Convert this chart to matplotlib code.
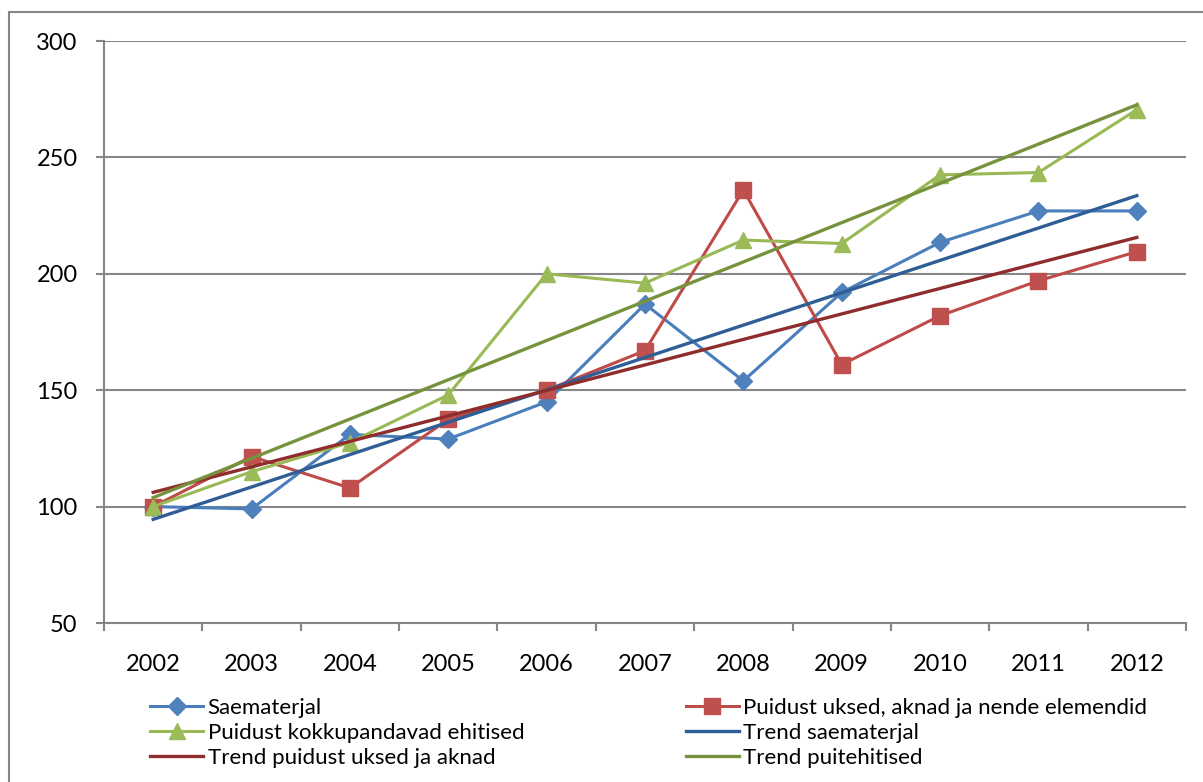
import numpy as np
import matplotlib
matplotlib.use("Agg")
import matplotlib.pyplot as plt
from matplotlib.patches import Rectangle
from matplotlib.ticker import FixedLocator, MultipleLocator

plt.rcParams['font.family'] = ['Lato', 'DejaVu Sans']

years = ['2002', '2003', '2004', '2005', '2006', '2007', '2008', '2009', '2010', '2011', '2012']
saematerjal = [100, 99, 131, 129, 145, 187, 154, 192, 213.5, 227, 227]
uksed_aknad = [100, 121.5, 108, 137.5, 150, 167, 236, 161, 182, 197, 209.5]
ehitised = [100, 115, 127.5, 148, 200, 196, 214.5, 213, 242.5, 243.5, 270.5]

labels = ['Saematerjal',
          'Puidust uksed, aknad ja nende elemendid',
          'Puidust kokkupandavad ehitised',
          'Trend saematerjal',
          'Trend puidust uksed ja aknad',
          'Trend puitehitised']

W, H = 1203, 782
fig = plt.figure(figsize=(W / 100, H / 100), dpi=100)
ax = fig.add_axes([104 / W, 1 - 623 / H, (1186 - 104) / W, (623 - 41) / H])

x = np.arange(len(years))
grid_c = '#868686'

l1, = ax.plot(x, saematerjal, color='#4A7EBB', lw=2.2, marker='D', ms=9,
              mfc='#4F81BD', mec='#4F81BD', zorder=4)
l2, = ax.plot(x, uksed_aknad, color='#BE4B48', lw=2.2, marker='s', ms=11,
              mfc='#C0504D', mec='#C0504D', zorder=4)
l3, = ax.plot(x, ehitised, color='#98B954', lw=2.2, marker='^', ms=12,
              mfc='#9BBB59', mec='#9BBB59', zorder=4)


def trend(values):
    k, b = np.polyfit(x, values, 1)
    return k * x + b


t1, = ax.plot(x, trend(saematerjal), color='#2E5E95', lw=2.4, zorder=5)
t2, = ax.plot(x, trend(uksed_aknad), color='#8E2D2B', lw=2.4, zorder=5)
t3, = ax.plot(x, trend(ehitised), color='#76923C', lw=2.4, zorder=5)

ax.set_xlim(-0.5, len(years) - 0.5)
ax.set_ylim(50, 300)
ax.yaxis.set_major_locator(MultipleLocator(50))
ax.grid(axis='y', color=grid_c, lw=1.5, zorder=1)
ax.set_axisbelow(True)

ax.set_xticks(x)
ax.set_xticklabels(years)
ax.xaxis.set_minor_locator(FixedLocator(np.arange(-0.5, len(years), 1.0)))
ax.tick_params(axis='x', which='major', length=0, pad=22, labelsize=17)
ax.tick_params(axis='x', which='minor', length=6, width=1.5, color=grid_c, direction='out')
ax.tick_params(axis='y', length=6, width=1.5, color=grid_c, pad=13, labelsize=17)

for side in ['top', 'right']:
    ax.spines[side].set_visible(False)
for side in ['left', 'bottom']:
    ax.spines[side].set_color(grid_c)
    ax.spines[side].set_linewidth(1.5)

handles = [l1, l3, t2, l2, t1, t3]
hlabels = [labels[0], labels[2], labels[4], labels[1], labels[3], labels[5]]
fig.legend(handles, hlabels, ncol=2, loc='upper left',
           bbox_to_anchor=(150 / W, 1 - 698 / H), frameon=False,
           fontsize=16, handlelength=2.4, handletextpad=0.2,
           columnspacing=7.25, labelspacing=0.23, borderaxespad=0, borderpad=0)

fig.patches.append(Rectangle((9 / W, -0.1), 1.2, 1 - 12 / H + 0.1,
                             transform=fig.transFigure, fill=False,
                             edgecolor=grid_c, lw=1.5))

fig.savefig('out.png', dpi=100)
